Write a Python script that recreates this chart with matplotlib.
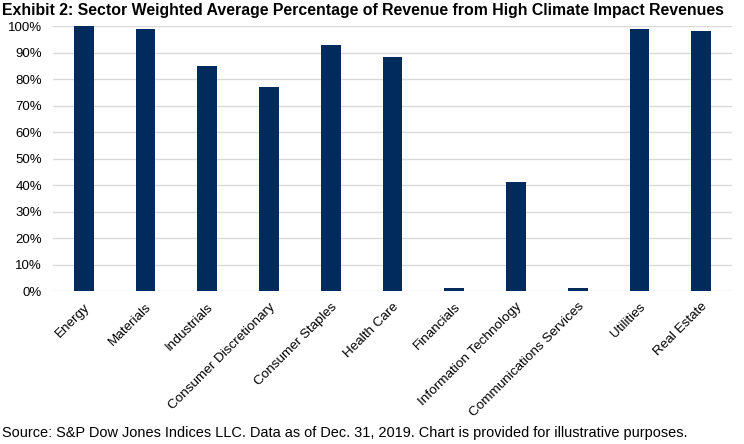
import matplotlib
matplotlib.use("Agg")
import matplotlib.pyplot as plt
from matplotlib.ticker import FuncFormatter, MultipleLocator

categories = ["Energy", "Materials", "Industrials", "Consumer Discretionary",
              "Consumer Staples", "Health Care", "Financials",
              "Information Technology", "Communications Services",
              "Utilities", "Real Estate"]
values = [100, 99, 85, 77, 93, 88.3, 1, 41.1, 1, 98.9, 98.1]

plt.rcParams['font.family'] = ['Liberation Sans', 'DejaVu Sans']

fig = plt.figure(figsize=(7.44, 4.44), dpi=100)
ax = fig.add_axes([53/744, 1-291/444, (732-53)/744, (291-26)/444])

x = range(len(categories))
ax.bar(x, values, width=0.32, color="#002B5C", zorder=3)
ax.set_xlim(-0.5, len(categories)-0.5)
ax.set_ylim(0, 100)
ax.yaxis.set_major_locator(MultipleLocator(10))
ax.yaxis.set_major_formatter(FuncFormatter(lambda v, p: f"{int(round(v))}%"))
ax.grid(axis='y', color="#D9D9D9", linewidth=1, zorder=0)
ax.set_axisbelow(True)
for s in ax.spines.values():
    s.set_visible(False)
ax.tick_params(axis='both', length=0, colors="#000000")
ax.tick_params(axis='y', pad=8, labelsize=9.5)
ax.set_xticks(list(x))
ax.set_xticklabels(categories, rotation=45, ha='right', rotation_mode='anchor', fontsize=9.7)
ax.tick_params(axis='x', pad=7)

fig.text(2/744, 1-10/444, "Exhibit 2: Sector Weighted Average Percentage of Revenue from High Climate Impact Revenues",
         fontsize=11.45, fontweight='bold', ha='left', va='center')
fig.text(2/744, 1-433/444, "Source: S&P Dow Jones Indices LLC. Data as of Dec. 31, 2019. Chart is provided for illustrative purposes.",
         fontsize=10.45, ha='left', va='center')

fig.savefig("out.png", dpi=100)
